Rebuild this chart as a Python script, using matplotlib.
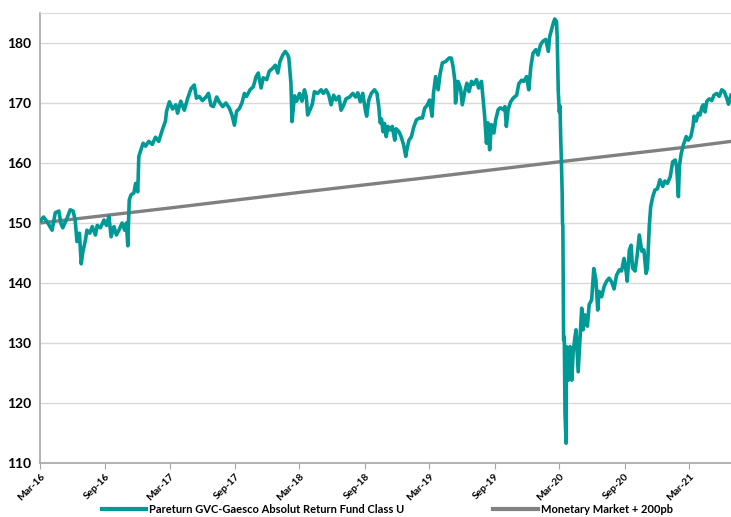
import numpy as np
import pandas as pd
import matplotlib
matplotlib.use("Agg")
import matplotlib.pyplot as plt
import matplotlib.dates as mdates

# === DATA ===
start_date = "2016-03-01"
end_day = 1944

fund_days = [
    0, 10, 20, 34, 43, 53, 59, 64, 76, 85, 93, 99, 104, 111, 116, 120, 128, 132, 140, 147,
    156, 161, 170, 180, 187, 194, 200, 208, 215, 222, 231, 238, 243, 247, 251, 256, 264, 269, 275, 278,
    285, 290, 297, 306, 316, 325, 334, 344, 353, 356, 364, 373, 382, 387, 396, 406, 415, 425, 434, 440,
    448, 457, 467, 474, 481, 488, 497, 504, 514, 523, 533, 540, 547, 553, 561, 568, 575, 581, 591, 600,
    608, 614, 622, 628, 638, 645, 655, 662, 669, 675, 683, 690, 697, 700, 706, 709, 716, 722, 730, 737,
    744, 749, 753, 760, 766, 772, 781, 791, 797, 805, 812, 819, 826, 833, 841, 847, 854, 861, 871, 880,
    888, 894, 901, 908, 916, 919, 925, 932, 941, 948, 953, 957, 961, 965, 969, 974, 979, 985, 991, 998,
    1002, 1010, 1016, 1023, 1029, 1032, 1038, 1045, 1051, 1059, 1068, 1076, 1082, 1089, 1096, 1103, 1107, 1113, 1120, 1126,
    1132, 1141, 1151, 1157, 1162, 1167, 1169, 1176, 1183, 1188, 1195, 1201, 1207, 1214, 1220, 1228, 1234, 1242, 1246, 1251,
    1256, 1260, 1265, 1270, 1277, 1282, 1289, 1295, 1303, 1308, 1312, 1317, 1324, 1331, 1341, 1347, 1355, 1361, 1369, 1375,
    1381, 1387, 1395, 1401, 1408, 1415, 1423, 1430, 1434, 1439, 1444, 1448, 1453, 1455, 1458, 1461, 1463, 1465, 1467, 1469,
    1470, 1471, 1472, 1473, 1475, 1477, 1480, 1481, 1486, 1491, 1496, 1500, 1505, 1508, 1514, 1519, 1524, 1528, 1533, 1540,
    1545, 1552, 1558, 1564, 1569, 1573, 1580, 1587, 1594, 1601, 1608, 1615, 1622, 1630, 1636, 1643, 1649, 1652, 1658, 1663,
    1667, 1674, 1680, 1686, 1693, 1699, 1705, 1709, 1714, 1718, 1724, 1730, 1737, 1744, 1752, 1758, 1765, 1773, 1780, 1787,
    1791, 1796, 1799, 1804, 1810, 1818, 1824, 1831, 1837, 1840, 1846, 1852, 1857, 1862, 1866, 1871, 1876, 1883, 1890, 1896,
    1904, 1911, 1918, 1925, 1932, 1937, 1944,
]
fund_values = [
    150.3, 151.0, 150.2, 148.8, 151.7, 152.0, 149.9, 149.2, 150.8, 152.2, 152.0, 150.5, 146.9, 148.3, 143.2, 145.0, 147.2, 148.8, 148.3, 149.4,
    148.0, 149.6, 149.2, 150.5, 149.6, 151.1, 147.7, 149.4, 148.0, 148.8, 150.0, 148.8, 150.0, 146.2, 153.8, 154.7, 155.0, 156.6, 155.2, 161.1,
    162.4, 163.3, 162.8, 163.6, 163.1, 164.3, 163.6, 165.5, 167.0, 168.6, 170.2, 169.0, 169.7, 168.3, 170.3, 168.8, 170.7, 172.4, 173.0, 170.8,
    171.1, 170.4, 171.0, 171.6, 169.6, 169.4, 171.0, 170.2, 169.4, 170.0, 169.1, 168.0, 166.3, 168.6, 169.1, 170.0, 171.6, 171.1, 172.2, 172.7,
    174.4, 175.0, 172.5, 174.2, 173.9, 175.3, 175.8, 176.3, 175.0, 176.9, 178.0, 178.6, 178.0, 177.5, 173.3, 166.9, 171.2, 170.3, 171.6, 170.3,
    172.2, 171.1, 168.0, 168.9, 169.8, 171.9, 171.6, 172.2, 171.6, 172.2, 171.4, 169.7, 171.3, 170.5, 171.1, 168.8, 169.6, 170.7, 171.0, 171.6,
    171.0, 171.7, 170.2, 171.6, 168.6, 167.8, 170.5, 171.6, 172.2, 171.6, 169.4, 166.7, 167.3, 165.2, 166.6, 164.4, 166.1, 165.5, 166.1, 163.8,
    165.7, 165.2, 164.4, 163.0, 161.1, 162.2, 163.8, 164.4, 165.9, 167.2, 167.5, 167.5, 169.1, 169.6, 170.5, 167.8, 171.6, 174.4, 172.2, 175.0,
    176.7, 176.9, 177.5, 177.5, 176.1, 173.8, 170.0, 173.6, 172.5, 169.7, 171.9, 173.3, 171.9, 173.6, 173.1, 173.9, 172.5, 173.6, 171.1, 167.8,
    163.3, 166.7, 162.2, 166.4, 165.0, 167.2, 168.9, 169.2, 168.9, 169.4, 166.1, 168.9, 170.2, 170.8, 171.3, 173.2, 173.8, 173.6, 174.4, 172.2,
    176.1, 178.3, 178.9, 178.0, 179.7, 180.3, 180.6, 178.6, 181.1, 182.2, 183.3, 184.0, 183.6, 181.0, 172.0, 168.5, 169.5, 164.0, 160.0, 155.0,
    150.0, 149.5, 140.0, 130.5, 131.0, 118.3, 113.3, 129.4, 123.8, 129.4, 123.8, 128.5, 131.0, 132.2, 125.2, 130.5, 135.8, 132.2, 134.7, 132.8,
    136.4, 137.2, 142.4, 140.5, 135.5, 138.6, 137.7, 139.4, 140.3, 140.8, 140.2, 139.0, 141.3, 142.2, 142.0, 144.1, 141.9, 140.3, 145.5, 146.3,
    142.5, 142.0, 144.6, 148.0, 145.3, 145.5, 141.6, 142.5, 149.4, 152.7, 154.4, 155.5, 155.7, 157.2, 156.1, 157.0, 156.6, 157.7, 160.2, 160.5,
    159.4, 154.4, 159.6, 161.6, 163.0, 164.4, 163.8, 164.4, 166.1, 167.8, 167.0, 168.3, 168.0, 169.3, 169.7, 168.5, 170.3, 170.7, 170.4, 171.3,
    171.6, 171.1, 172.2, 171.9, 170.8, 169.8, 171.3,
]

bench_days = [0, 365, 730, 1095, 1461, 1826, 1944]
bench_values = [150.0, 152.5, 155.1, 157.6, 160.2, 162.7, 163.6]

fund_label = "Pareturn GVC-Gaesco Absolut Return Fund Class U"
bench_label = "Monetary Market + 200pb"

y_ticks = [110, 120, 130, 140, 150, 160, 170, 180]

# === STYLE ===
teal = "#009A96"
grey = "#808080"
plt.rcParams["font.family"] = ["Lato", "DejaVu Sans"]

t0 = pd.Timestamp(start_date)
fund_dates = t0 + pd.to_timedelta(fund_days, unit="D")
bench_dates = t0 + pd.to_timedelta(bench_days, unit="D")

fig = plt.figure(figsize=(7.31, 5.17), dpi=100)
ax = fig.add_axes([40 / 731, 54 / 517, 691 / 731, 450 / 517])

ax.plot(fund_dates, fund_values, color=teal, lw=2.6, solid_joinstyle="round",
        label=fund_label, zorder=3)
ax.plot(bench_dates, bench_values, color=grey, lw=2.4, label=bench_label, zorder=2)

ax.set_ylim(110, 185)
ax.set_yticks(y_ticks)
ax.set_xlim(t0, t0 + pd.Timedelta(days=end_day))
ax.xaxis.set_major_locator(mdates.MonthLocator(bymonth=[3, 9], bymonthday=1))
ax.xaxis.set_major_formatter(mdates.DateFormatter("%b-%y"))

ax.grid(axis="y", color="#D9D9D9", lw=1)
ax.set_axisbelow(True)
ax.spines["right"].set_visible(False)
ax.spines["top"].set_color("#D9D9D9")
ax.spines["left"].set_color("#A6A6A6")
ax.spines["bottom"].set_color("#A6A6A6")
ax.spines["left"].set_linewidth(1.2)
ax.spines["bottom"].set_linewidth(1.2)

ax.tick_params(axis="y", length=0, pad=6, labelsize=10)
ax.tick_params(axis="x", length=4, color="#A6A6A6", labelsize=7.3, pad=2)
for lbl in ax.get_yticklabels():
    lbl.set_fontweight("bold")
for lbl in ax.get_xticklabels():
    lbl.set_fontweight("bold")
    lbl.set_rotation(45)
    lbl.set_ha("right")
    lbl.set_rotation_mode("anchor")

leg = fig.legend(loc="lower center", bbox_to_anchor=(0.53, 0.0), ncol=2, frameon=False,
                 prop={"weight": "bold", "size": 8}, handlelength=4.0, handletextpad=0.3,
                 columnspacing=8.0, borderaxespad=0.0, borderpad=0.15)
for h in leg.get_lines():
    h.set_linewidth(3.0)

fig.savefig("out.png", dpi=100)
